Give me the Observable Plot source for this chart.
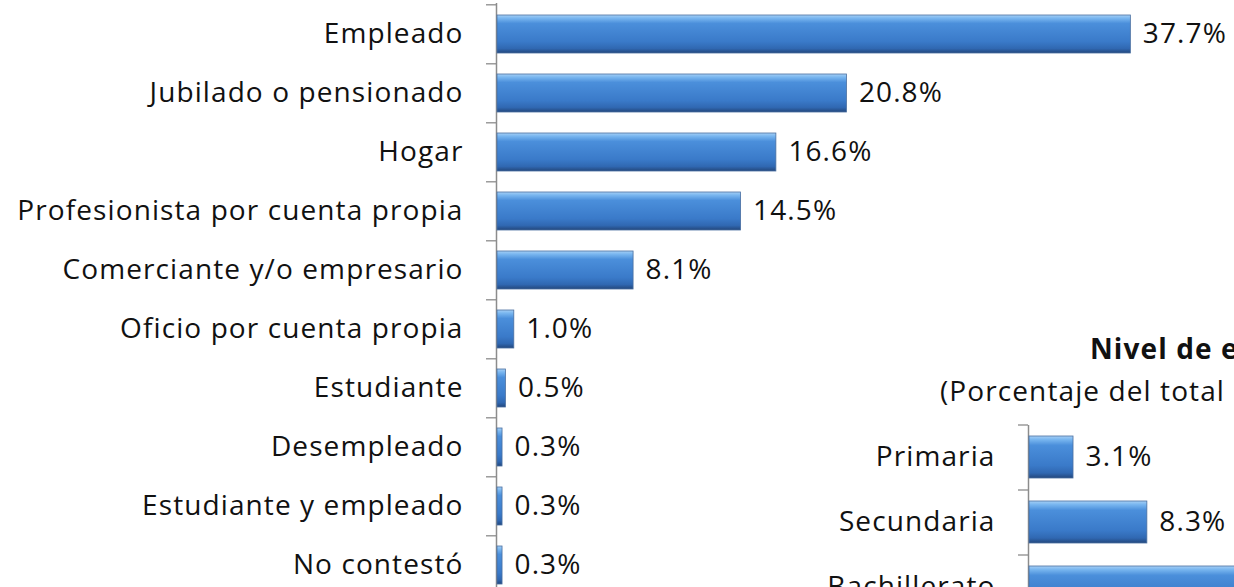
<!DOCTYPE html>
<html>
<head>
<meta charset="utf-8">
<script src="https://cdn.jsdelivr.net/npm/d3@7"></script>
<script src="https://cdn.jsdelivr.net/npm/@observablehq/plot@0.6"></script>
<style>
  html, body { margin: 0; padding: 0; background: #ffffff; overflow: hidden; width: 1234px; height: 587px; }
  #wrap { position: relative; width: 1234px; height: 587px; overflow: hidden; }
  .chart { position: absolute; }
  .chart svg { max-width: none !important; }
  .ttl { position: absolute; white-space: nowrap; font-family: "Open Sans", sans-serif; color: #111; font-size: 28px; letter-spacing: 1.1px; line-height: 1; }
</style>
</head>
<body>
<div id="wrap">
  <div id="main" class="chart" style="left:0;top:0"></div>
  <div class="ttl" style="left:1090px;top:334px;font-weight:bold;">Nivel de escolaridad</div>
  <div class="ttl" style="left:940px;top:376px;">(Porcentaje del total de encuestados)</div>
  <div id="second" class="chart" style="left:820px;top:400px;width:800px"></div>
</div>
<script>
// Main chart: occupation
const ocupaciones = [
  "Empleado",
  "Jubilado o pensionado",
  "Hogar",
  "Profesionista por cuenta propia",
  "Comerciante y/o empresario",
  "Oficio por cuenta propia",
  "Estudiante",
  "Desempleado",
  "Estudiante y empleado",
  "No contestó"
];
const ocupacionValores = [37.7, 20.8, 16.6, 14.5, 8.1, 1.0, 0.5, 0.3, 0.3, 0.3];

// Second chart: education level (partially visible)
const niveles = ["Primaria", "Secundaria", "Bachillerato"];
const nivelValores = [3.1, 8.3, 24.0];

const fmt = v => v.toFixed(1) + "%";
const FONT = "Open Sans, sans-serif";

function gradientDefs(id) {
  return `<defs><linearGradient id="${id}" x1="0" y1="0" x2="0" y2="1">
    <stop offset="0" stop-color="#a6cff5"/>
    <stop offset="0.08" stop-color="#7ab7f0"/>
    <stop offset="0.22" stop-color="#4b8fdb"/>
    <stop offset="0.7" stop-color="#3a7ac9"/>
    <stop offset="0.88" stop-color="#3068b2"/>
    <stop offset="1" stop-color="#23477c"/>
  </linearGradient></defs>`;
}

function barChart({cats, vals, width, height, marginLeft, marginTop, marginBottom, marginRight, xMax, gradId}) {
  const data = cats.map((c, i) => ({cat: c, val: vals[i]}));
  const plotH = height - marginTop - marginBottom;
  const step = plotH / cats.length;
  const svg = Plot.plot({
    width, height, marginLeft, marginTop, marginBottom, marginRight,
    style: {fontFamily: FONT, fontSize: "28px", color: "#111", background: "transparent", overflow: "visible", letterSpacing: "1.1px", maxWidth: "none"},
    x: {domain: [0, xMax], axis: null},
    y: {domain: cats, paddingInner: 0.35, paddingOuter: 0.175, label: null},
    marks: [
      Plot.axisY({tickSize: 10, text: null, dy: -step / 2, stroke: "#8c8c8c", strokeWidth: 1.3}),
      Plot.axisY({tickSize: 0, tickPadding: 33, fontSize: 28, fill: "#111", label: null}),
      Plot.ruleX([0], {stroke: "#8c8c8c", strokeWidth: 1.5}),
      Plot.barX(data, {x: "val", y: "cat", fill: `url(#${gradId})`, stroke: "#4a6fa0", strokeWidth: 0.8, dx: 1}),
      Plot.text(data, {x: "val", y: "cat", text: d => fmt(d.val), textAnchor: "start", dx: 13, fontSize: 28, fill: "#111"})
    ]
  });
  svg.insertAdjacentHTML("afterbegin", gradientDefs(gradId));
  return svg;
}

document.getElementById("main").appendChild(barChart({
  cats: ocupaciones, vals: ocupacionValores,
  width: 1234, height: 600, marginLeft: 496, marginTop: 3, marginBottom: 3,
  marginRight: 1234 - 496 - 40 * 16.8, xMax: 40, gradId: "g1"
}));

document.getElementById("second").appendChild(barChart({
  cats: niveles, vals: nivelValores,
  width: 208 + 40 * 14.2, height: 25 + 3 * 65 + 5, marginLeft: 208, marginTop: 25, marginBottom: 5,
  marginRight: 0, xMax: 40, gradId: "g2"
}));
</script>
</body>
</html>
